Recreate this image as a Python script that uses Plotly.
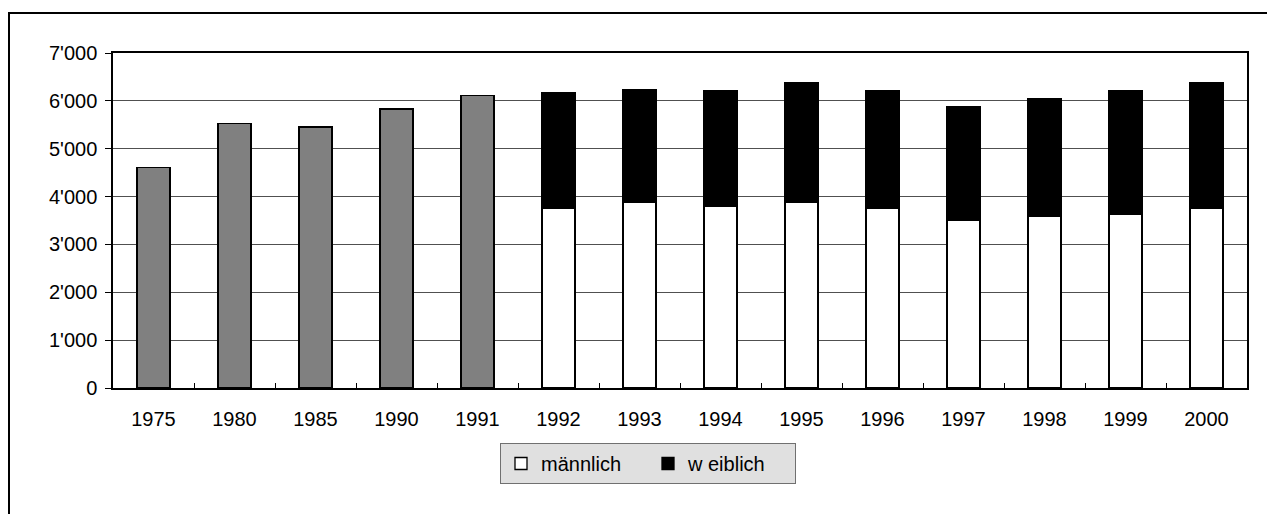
import plotly.graph_objects as go

years = ["1975", "1980", "1985", "1990", "1991", "1992", "1993", "1994",
         "1995", "1996", "1997", "1998", "1999", "2000"]
total_years = ["1975", "1980", "1985", "1990", "1991"]
total_values = [4610, 5530, 5455, 5830, 6115]
split_years = ["1992", "1993", "1994", "1995", "1996", "1997", "1998", "1999", "2000"]
maennlich = [3755, 3880, 3800, 3880, 3750, 3495, 3580, 3630, 3755]
weiblich = [2415, 2360, 2405, 2495, 2455, 2375, 2460, 2575, 2620]
y_ticks = [0, 1000, 2000, 3000, 4000, 5000, 6000, 7000]
y_tick_labels = ["0", "1'000", "2'000", "3'000", "4'000", "5'000", "6'000", "7'000"]

FONT = "Liberation Sans, Arial, sans-serif"
OFF = 8  # page body margin
W, H = 1275 - OFF, 514 - OFF
ML, MR, MT, MB = 113 - OFF, 1275 - 1247, 53 - OFF, 514 - 388
PW, PH = W - ML - MR, H - MT - MB


def px_x(px):
    return (px - OFF - ML) / PW


def px_y(py):
    return (H - MB - (py - OFF)) / PH


fig = go.Figure()
fig.add_trace(go.Bar(x=total_years, y=total_values, name="gesamt", showlegend=False,
                     marker=dict(color="#808080", line=dict(color="black", width=1.3))))
fig.add_trace(go.Bar(x=split_years, y=maennlich, name="männlich",
                     marker=dict(color="white", line=dict(color="black", width=1.3))))
fig.add_trace(go.Bar(x=split_years, y=weiblich, name="w eiblich",
                     marker=dict(color="black", line=dict(color="black", width=1.3))))

fig.update_layout(
    width=W, height=H,
    margin=dict(l=ML, r=MR, t=MT, b=MB, pad=0),
    barmode="stack", bargap=0.59,
    paper_bgcolor="white", plot_bgcolor="white",
    font=dict(family=FONT, size=20, color="black"),
    showlegend=True,
    legend=dict(orientation="h", x=px_x(500), xanchor="left", y=px_y(443), yanchor="top",
                bgcolor="#e0e0e0", bordercolor="#707070", borderwidth=1,
                font=dict(family=FONT, size=20, color="black"),
                traceorder="normal", itemwidth=30, entrywidth=102),
    xaxis=dict(type="category", categoryorder="array", categoryarray=years,
               showline=True, linecolor="black", linewidth=1.5, mirror=True,
               ticks="inside", tickson="boundaries", ticklen=5, tickcolor="black",
               showgrid=False, ticklabelstandoff=12,
               tickfont=dict(family=FONT, size=20, color="black")),
    yaxis=dict(range=[0, 7000], tickvals=y_ticks, ticktext=y_tick_labels,
               showline=True, linecolor="black", linewidth=1.5, mirror=True,
               ticks="outside", ticklen=6, tickcolor="black",
               showgrid=True, gridcolor="#505050", gridwidth=1, zeroline=False,
               ticklabelstandoff=4,
               tickfont=dict(family=FONT, size=20, color="black")),
    shapes=[
        dict(type="line", xref="paper", yref="paper", x0=px_x(8), x1=px_x(1290),
             y0=px_y(13), y1=px_y(13), line=dict(color="black", width=2)),
        dict(type="line", xref="paper", yref="paper", x0=px_x(9), x1=px_x(9),
             y0=px_y(13), y1=px_y(530), line=dict(color="black", width=2)),
    ],
)

fig.write_html("out.html")
